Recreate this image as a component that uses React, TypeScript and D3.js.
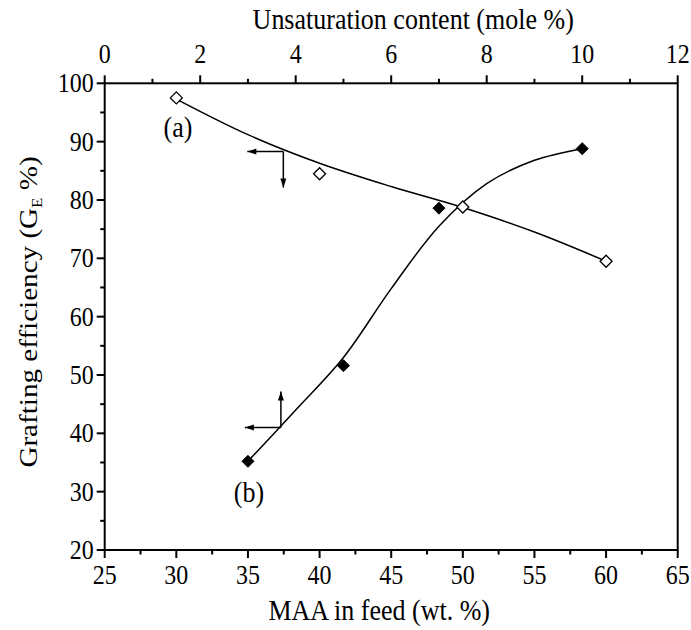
import React from "react";
import * as d3 from "d3";

// Series (a): grafting efficiency vs MAA in feed (bottom axis)
const maaFeed = [30, 40, 50, 60];
const geA = [97.5, 84.5, 78.8, 69.5];
// Fitted curve (a)
const fitAx = [30, 35, 40, 45, 50, 55, 60];
const fitAy = [97.3, 91.2, 86.3, 82.3, 78.7, 74.5, 69.5];

// Series (b): grafting efficiency vs unsaturation content (top axis)
const unsat = [3, 5, 7, 10];
const geB = [35.2, 51.6, 78.6, 88.8];
// Fitted curve (b)
const fitBx = [3, 4, 5, 6, 7, 8, 9, 10];
const fitBy = [35.2, 44.0, 53.0, 64.8, 75.5, 82.8, 86.8, 88.8];

const bottomTicks = [25, 30, 35, 40, 45, 50, 55, 60, 65];
const bottomMinor = [27.5, 32.5, 37.5, 42.5, 47.5, 52.5, 57.5, 62.5];
const topTicks = [0, 2, 4, 6, 8, 10, 12];
const topMinor = [1, 3, 5, 7, 9, 11];
const leftTicks = [20, 30, 40, 50, 60, 70, 80, 90, 100];
const leftMinor = [25, 35, 45, 55, 65, 75, 85, 95];

// Indicator arrows: corner in data units
const arrowA = { x: 37.47, y: 88.3 }; // bottom axis units
const arrowB = { x: 3.69, y: 41.0 }; // top axis units

const W = 691;
const H = 630;
const L = 104.7, R = 677.7, T = 83.3, B = 550;

const FONT = "Liberation Serif";
const SY = 1.12; // vertical stretch of the glyphs in the reference

export default function App() {
  const xB = d3.scaleLinear().domain([25, 65]).range([L, R]);
  const xT = d3.scaleLinear().domain([0, 12]).range([L, R]);
  const y = d3.scaleLinear().domain([20, 100]).range([B, T]);
  const fs = 24;
  const ts = { fontFamily: FONT, fill: "#000" } as React.CSSProperties;

  const T_ = (x: number, yy: number) => `translate(${x},${yy}) scale(1,${SY})`;

  const lineA = d3
    .line<number>()
    .x((_, i) => xB(fitAx[i]))
    .y((d) => y(d))
    .curve(d3.curveCatmullRom.alpha(0.5))(fitAy) as string;
  const lineB = d3
    .line<number>()
    .x((_, i) => xT(fitBx[i]))
    .y((d) => y(d))
    .curve(d3.curveCatmullRom.alpha(0.5))(fitBy) as string;

  const diamond = (cx: number, cy: number, r: number) =>
    `M${cx},${cy - r}L${cx + r},${cy}L${cx},${cy + r}L${cx - r},${cy}Z`;

  const arrowLen = 36;
  const head = (x: number, yy: number, dir: "left" | "up" | "down") => {
    const hl = 9, hw = 3;
    if (dir === "left") return `M${x},${yy}L${x + hl},${yy - hw}L${x + hl},${yy + hw}Z`;
    if (dir === "up") return `M${x},${yy}L${x - hw},${yy + hl}L${x + hw},${yy + hl}Z`;
    return `M${x},${yy}L${x - hw},${yy - hl}L${x + hw},${yy - hl}Z`;
  };
  const aX = xB(arrowA.x), aY = y(arrowA.y);
  const bX = xT(arrowB.x), bY = y(arrowB.y);

  return (
    <svg
      width={W}
      height={H}
      style={{ position: "absolute", left: 0, top: 0, background: "#fff", fontFamily: FONT }}
    >
      <rect x={0} y={0} width={W} height={H} fill="#fff" />
      <rect x={L} y={T} width={R - L} height={B - T} fill="none" stroke="#000" strokeWidth={2} />

      {leftTicks.map((t) => (
        <g key={"l" + t}>
          <line x1={L - 8} x2={L} y1={y(t)} y2={y(t)} stroke="#000" strokeWidth={2} />
          <text transform={T_(L - 11, y(t))} dy="0.34em" textAnchor="end" fontSize={fs} style={ts}>
            {t}
          </text>
        </g>
      ))}
      {leftMinor.map((t) => (
        <line key={"lm" + t} x1={L - 4.5} x2={L} y1={y(t)} y2={y(t)} stroke="#000" strokeWidth={2} />
      ))}

      {bottomTicks.map((t) => (
        <g key={"b" + t}>
          <line x1={xB(t)} x2={xB(t)} y1={B} y2={B + 8} stroke="#000" strokeWidth={2} />
          <text transform={T_(xB(t), B + 34)} textAnchor="middle" fontSize={fs} style={ts}>
            {t}
          </text>
        </g>
      ))}
      {bottomMinor.map((t) => (
        <line key={"bm" + t} x1={xB(t)} x2={xB(t)} y1={B} y2={B + 4.5} stroke="#000" strokeWidth={2} />
      ))}

      {topTicks.map((t) => (
        <g key={"t" + t}>
          <line x1={xT(t)} x2={xT(t)} y1={T} y2={T - 8} stroke="#000" strokeWidth={2} />
          <text transform={T_(xT(t), T - 20)} textAnchor="middle" fontSize={fs} style={ts}>
            {t}
          </text>
        </g>
      ))}
      {topMinor.map((t) => (
        <line key={"tm" + t} x1={xT(t)} x2={xT(t)} y1={T} y2={T - 4.5} stroke="#000" strokeWidth={2} />
      ))}

      <text transform={T_((L + R) / 2 + 22, 29)} textAnchor="middle" fontSize={26} style={ts}>
        Unsaturation content (mole %)
      </text>
      <text transform={T_((L + R) / 2 - 12, 620)} textAnchor="middle" fontSize={26} style={ts}>
        MAA in feed (wt. %)
      </text>
      <text
        transform={`translate(37,312) rotate(-90) scale(${SY},1)`}
        textAnchor="middle"
        fontSize={26}
        style={ts}
      >
        Grafting efficiency (G
        <tspan fontSize={15} dy={5}>E</tspan>
        <tspan dy={-5}> %)</tspan>
      </text>

      <path d={lineA} fill="none" stroke="#000" strokeWidth={1.5} />
      <path d={lineB} fill="none" stroke="#000" strokeWidth={1.5} />

      {maaFeed.map((m, i) => (
        <path key={"a" + i} d={diamond(xB(m), y(geA[i]), 6)} fill="#fff" stroke="#000" strokeWidth={1.3} />
      ))}
      {unsat.map((u, i) => (
        <path key={"bb" + i} d={diamond(xT(u), y(geB[i]), 6)} fill="#000" stroke="#000" strokeWidth={1} />
      ))}

      <line x1={aX} x2={aX - arrowLen} y1={aY} y2={aY} stroke="#000" strokeWidth={1.5} />
      <path d={head(aX - arrowLen, aY, "left")} fill="#000" />
      <line x1={aX} x2={aX} y1={aY} y2={aY + arrowLen} stroke="#000" strokeWidth={1.5} />
      <path d={head(aX, aY + arrowLen, "down")} fill="#000" />

      <line x1={bX} x2={bX - arrowLen} y1={bY} y2={bY} stroke="#000" strokeWidth={1.5} />
      <path d={head(bX - arrowLen, bY, "left")} fill="#000" />
      <line x1={bX} x2={bX} y1={bY} y2={bY - arrowLen} stroke="#000" strokeWidth={1.5} />
      <path d={head(bX, bY - arrowLen, "up")} fill="#000" />

      <text transform={T_(178, 127)} dy="0.34em" textAnchor="middle" fontSize={26} style={ts}>
        (a)
      </text>
      <text transform={T_(249, 492)} dy="0.34em" textAnchor="middle" fontSize={26} style={ts}>
        (b)
      </text>
    </svg>
  );
}
